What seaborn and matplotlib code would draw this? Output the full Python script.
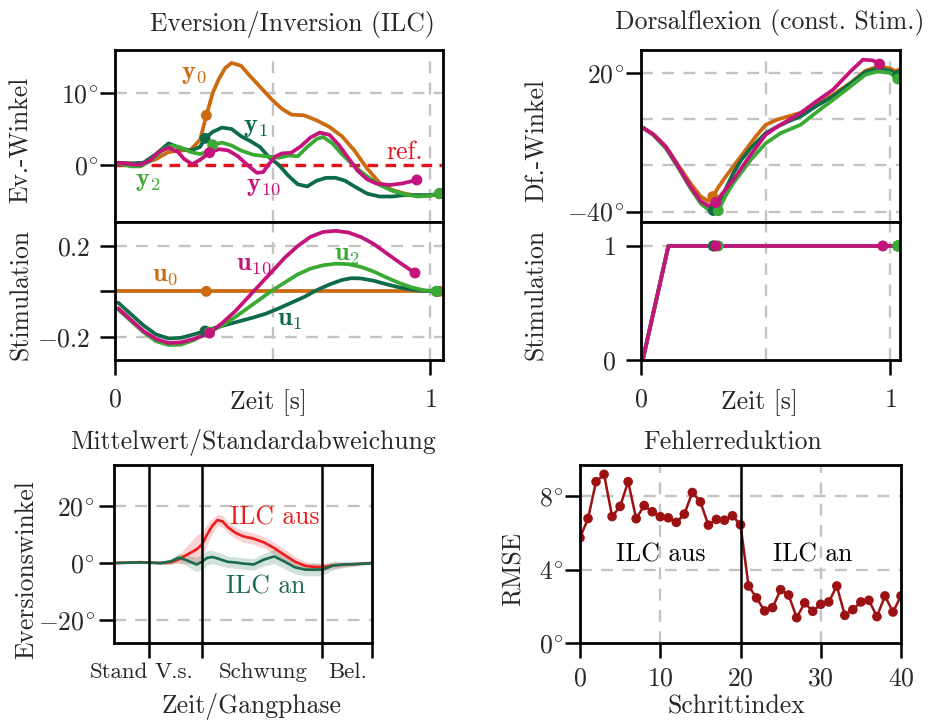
import numpy as np
import pandas as pd
import matplotlib
matplotlib.use("Agg")
import matplotlib.pyplot as plt
import seaborn as sns

# ---------------- data ----------------
# Top-left: Eversion/Inversion (ILC) outputs y_k (deg) over time (s)
y0_t = [0.01,0.05,0.09,0.13,0.17,0.21,0.24,0.27,0.29,0.31,0.33,0.35,0.37,0.40,0.43,0.46,0.50,0.53,0.56,0.60,0.64,0.68,0.72,0.76,0.80,0.84,0.88,0.92,0.96,1.00,1.03]
y0_v = [0.3,0.2,0.2,0.8,1.8,2.0,2.1,3.5,6.9,10.0,12.0,13.5,14.2,13.8,12.3,10.9,9.0,7.8,7.0,6.9,6.2,5.3,4.0,2.0,-0.5,-2.5,-3.5,-4.0,-4.3,-4.3,-4.0]
y1_t = [0.01,0.05,0.09,0.13,0.17,0.21,0.24,0.27,0.286,0.31,0.34,0.37,0.40,0.43,0.46,0.49,0.52,0.55,0.58,0.61,0.64,0.67,0.70,0.73,0.76,0.80,0.84,0.88,0.92,0.96,1.00,1.03]
y1_v = [0.3,0.2,0.3,1.5,3.0,2.3,2.0,2.5,3.7,4.6,5.2,5.0,4.0,3.3,2.5,1.0,0.0,-1.5,-2.7,-3.0,-2.2,-1.8,-1.8,-2.2,-3.0,-4.0,-4.4,-4.4,-4.2,-4.2,-4.2,-4.0]
y2_t = [0.01,0.05,0.08,0.11,0.15,0.18,0.21,0.24,0.27,0.29,0.31,0.34,0.37,0.40,0.44,0.48,0.52,0.55,0.58,0.61,0.64,0.66,0.69,0.72,0.76,0.80,0.84,0.88,0.92,0.96,1.00,1.03]
y2_v = [0.2,-0.2,-0.2,0.5,2.0,2.7,2.4,1.8,1.5,1.8,2.8,3.1,2.7,2.0,1.4,1.2,1.0,1.3,1.2,2.5,3.6,3.9,3.0,1.5,-0.2,-1.6,-2.8,-3.6,-4.1,-4.4,-4.3,-4.0]
y10_t = [0.01,0.05,0.08,0.11,0.14,0.17,0.20,0.22,0.245,0.27,0.30,0.33,0.36,0.39,0.42,0.45,0.47,0.49,0.51,0.53,0.56,0.59,0.62,0.65,0.68,0.71,0.74,0.77,0.80,0.83,0.87,0.91,0.958]
y10_v = [0.3,0.1,0.0,0.6,1.8,2.4,1.8,0.8,0.1,0.7,1.7,2.2,2.0,1.2,0.0,-1.1,-1.0,0.2,1.2,1.6,1.7,2.6,3.8,4.5,4.2,2.8,1.0,-0.8,-2.0,-2.6,-2.8,-2.6,-2.1]
y_mark_t = {"y0": [0.29, 1.03], "y1": [0.286, 1.03], "y2": [0.31, 1.03], "y10": [0.30, 0.958]}
y_mark_v = {"y0": [6.9, -4.0], "y1": [3.7, -4.0], "y2": [2.8, -4.0], "y10": [1.7, -2.1]}
ref_t = [0.0, 1.04]
ref_v = [0.0, 0.0]

# Top-left lower: stimulation u_k
u0_t = [0.0, 1.03]
u0_v = [0.0, 0.0]
u1_t = [0.01,0.05,0.09,0.13,0.17,0.21,0.25,0.286,0.32,0.36,0.40,0.44,0.48,0.52,0.56,0.60,0.64,0.68,0.72,0.75,0.78,0.82,0.86,0.90,0.94,0.98,1.02]
u1_v = [-0.05,-0.10,-0.15,-0.19,-0.208,-0.205,-0.19,-0.175,-0.16,-0.145,-0.13,-0.115,-0.098,-0.075,-0.05,-0.025,0.005,0.03,0.05,0.058,0.057,0.047,0.032,0.018,0.008,0.002,0.0]
u2_t = [0.01,0.05,0.09,0.13,0.17,0.21,0.25,0.30,0.34,0.38,0.42,0.46,0.50,0.54,0.58,0.62,0.66,0.70,0.74,0.78,0.82,0.86,0.90,0.94,0.98,1.02]
u2_v = [-0.08,-0.13,-0.18,-0.22,-0.237,-0.235,-0.215,-0.18,-0.15,-0.115,-0.075,-0.035,0.005,0.04,0.075,0.10,0.115,0.122,0.12,0.108,0.088,0.062,0.038,0.018,0.005,0.0]
u10_t = [0.01,0.05,0.09,0.13,0.17,0.21,0.25,0.30,0.34,0.38,0.42,0.46,0.50,0.54,0.58,0.62,0.66,0.70,0.74,0.78,0.82,0.86,0.90,0.952]
u10_v = [-0.075,-0.125,-0.175,-0.21,-0.228,-0.225,-0.21,-0.184,-0.14,-0.09,-0.03,0.03,0.09,0.15,0.20,0.24,0.262,0.267,0.26,0.24,0.21,0.17,0.13,0.081]
u_mark_t = {"u0": [0.29, 1.03], "u1": [0.286, 1.02], "u2": [0.30, 1.02], "u10": [0.30, 0.952]}
u_mark_v = {"u0": [0.0, 0.0], "u1": [-0.175, 0.0], "u2": [-0.18, 0.0], "u10": [-0.184, 0.081]}

# Top-right: Dorsalflexion (const. Stim.)
d0_t = [0.007,0.05,0.10,0.15,0.20,0.24,0.27,0.288,0.31,0.34,0.38,0.41,0.46,0.50,0.55,0.60,0.64,0.70,0.77,0.84,0.90,0.95,1.00,1.037]
d0_v = [-3.6,-6.5,-11.8,-20.0,-28.0,-33.5,-35.5,-33.5,-29.5,-24.8,-19.0,-14.7,-7.5,-2.4,0.0,1.5,2.8,6.3,10.6,15.7,21.0,22.8,22.0,20.0]
d1_t = [0.007,0.05,0.10,0.15,0.20,0.24,0.27,0.29,0.31,0.34,0.37,0.40,0.44,0.50,0.55,0.60,0.64,0.70,0.77,0.84,0.90,0.95,1.00,1.03]
d1_v = [-3.6,-6.8,-12.5,-21.0,-30.0,-36.3,-39.0,-39.5,-38.0,-30.0,-23.4,-18.0,-12.5,-6.0,-3.0,-0.5,1.2,5.5,9.9,15.5,20.5,22.0,21.0,19.0]
d2_t = [0.007,0.05,0.10,0.15,0.20,0.24,0.27,0.30,0.31,0.34,0.37,0.44,0.50,0.56,0.64,0.70,0.77,0.84,0.90,0.95,1.00,1.03]
d2_v = [-3.6,-6.8,-12.5,-21.0,-30.0,-36.5,-39.0,-39.8,-39.6,-33.0,-27.7,-17.6,-10.4,-6.0,-2.4,2.7,8.4,14.2,19.3,20.8,20.0,17.5]
d10_t = [0.007,0.05,0.10,0.15,0.20,0.24,0.27,0.30,0.32,0.37,0.435,0.50,0.55,0.64,0.70,0.77,0.84,0.89,0.93,0.957]
d10_v = [-3.6,-6.6,-12.0,-20.5,-29.5,-35.5,-37.5,-36.1,-33.0,-26.3,-16.1,-6.7,-3.0,2.7,7.5,12.8,20.7,25.8,25.5,23.9]
d_mark_t = {"d0": [0.288, 1.037], "d1": [0.29, 1.03], "d2": [0.31, 1.03], "d10": [0.30, 0.957]}
d_mark_v = {"d0": [-33.5, 20.0], "d1": [-39.5, 19.0], "d2": [-39.6, 17.5], "d10": [-36.1, 23.9]}
s_t = [0.007, 0.11, 0.30, 1.03]
s_v = [0.0, 1.0, 1.0, 1.0]
s_mark_t = {"d0": [0.29, 1.03], "d1": [0.29, 1.03], "d2": [0.31, 1.03], "d10": [0.30, 0.97]}
s_mark_v = {"d0": [1.0, 1.0], "d1": [1.0, 1.0], "d2": [1.0, 1.0], "d10": [1.0, 1.0]}

# Bottom-left: mean / std of eversion angle over gait cycle
bl_x = [0.00,0.10,0.18,0.22,0.25,0.28,0.30,0.32,0.34,0.36,0.38,0.40,0.42,0.44,0.47,0.50,0.54,0.58,0.62,0.66,0.70,0.74,0.78,0.81,0.85,0.90,0.95,1.00]
off_mean = [0,0.3,0.0,0.3,1.3,2.8,3.8,4.8,6.5,10,13,15,14.5,12.5,10.5,9.3,8.5,7.2,5.2,2.8,0.5,-1,-1.4,-1.4,-0.8,-0.5,-0.3,0]
off_std = [0.3,0.3,0.4,0.8,1.5,3,4,5,4.5,3.5,2.5,2,2,2,2,2,2,2,2,2,1.8,1.5,1.5,1.3,1,0.8,0.5,0.3]
on_mean = [0,0.2,0,0.6,1.9,1.0,0.2,-0.5,0.5,1.8,2.1,1.6,1.0,0.4,0.2,-0.2,-0.5,1.2,2.3,0.5,-1.5,-2.3,-2.3,-2.2,-0.8,-0.5,-0.3,0]
on_std = [0.3,0.3,0.5,1,1.5,2,2.2,2.5,2.5,2.5,2.3,2.2,2.2,2,2,2,2,2.2,2.5,2.5,2.3,2.2,2.2,2,1.5,1,0.6,0.3]
phase_bounds = [0.1345, 0.339, 0.806]
phase_label_pos = [0.017, 0.233, 0.576, 0.904]
phase_labels = ["Stand", "V.s.", "Schwung", "Bel."]

# Bottom-right: RMSE per step
step_idx = list(range(41))
rmse = [5.74,6.79,8.80,9.20,6.90,7.45,8.80,6.78,7.50,7.16,6.89,6.83,6.58,7.03,8.21,7.70,6.43,6.74,6.70,6.94,
        6.45,3.11,2.46,1.75,1.93,2.91,2.62,1.38,2.19,1.73,2.11,2.24,3.11,1.51,1.82,2.24,2.33,1.44,2.57,1.69,2.57]

# ---------------- style ----------------
sns.set_theme(style="white")
plt.rcParams['font.family'] = ['cmr10', 'DejaVu Serif']
plt.rcParams['mathtext.fontset'] = 'cm'
plt.rcParams['axes.unicode_minus'] = False
plt.rcParams['axes.formatter.use_mathtext'] = True

C0 = "#cc6a10"
C1 = "#0e6b48"
C2 = "#3aaa35"
C10 = "#c4147c"
CREF = "#e8101a"
BLR = "#ee1c1c"
BLG = "#1a6b4c"
BRC = "#9c1212"
GRID = "#c3c3c3"
FS = 18.5
AFS = 19

W, H = 933, 720
fig = plt.figure(figsize=(W / 100, H / 100), dpi=100)


def ax_px(l, r, t, b):
    return fig.add_axes([l / W, 1 - b / H, (r - l) / W, (b - t) / H])


def style(ax, ypad=7, xpad=9):
    for s in ax.spines.values():
        s.set_linewidth(2.0)
        s.set_color("black")
        s.set_zorder(5)
    ax.tick_params(axis="both", which="major", direction="out", length=11, width=1.8,
                   labelsize=FS, color="black", bottom=True, left=True)
    ax.tick_params(axis="y", pad=ypad)
    ax.tick_params(axis="x", pad=xpad)
    ax.set_xlabel("")
    ax.set_ylabel("")


def grid(ax, xs=(), ys=()):
    for x in xs:
        ax.axvline(x, color=GRID, lw=1.7, ls=(0, (5, 4)), zorder=0)
    for y in ys:
        ax.axhline(y, color=GRID, lw=1.7, ls=(0, (5, 4)), zorder=0)


def line(ax, t, v, color, lw=2.7, z=2):
    sns.lineplot(x=t, y=v, ax=ax, color=color, lw=lw, sort=False, estimator=None,
                 zorder=z, legend=False)


def marks(ax, t, v, color, s=62, z=3):
    sns.scatterplot(x=t, y=v, ax=ax, color=color, s=s, edgecolor="none",
                    zorder=z, legend=False)


def px_text(x, y, s, **kw):
    fig.text(x / W, 1 - y / H, s, ha="center", va="center", **kw)


def deg(v):
    return r"$%d^{\!\circ}$" % v

# ---------------- top-left upper ----------------
a1 = ax_px(115, 442.7, 50, 222)
grid(a1, xs=[0.5, 1.0], ys=[10])
line(a1, ref_t, ref_v, CREF, lw=2.4, z=1.5)
a1.lines[-1].set_linestyle((0, (3.2, 2.2)))
for (t, v, c, k) in [(y0_t, y0_v, C0, "y0"), (y1_t, y1_v, C1, "y1"),
                     (y2_t, y2_v, C2, "y2"), (y10_t, y10_v, C10, "y10")]:
    line(a1, t, v, c)
    marks(a1, y_mark_t[k], y_mark_v[k], c)
a1.set_xlim(0, 1.04)
a1.set_ylim(-7.95, 16)
a1.set_xticks([])
a1.set_yticks([0, 10])
a1.set_yticklabels([deg(0), deg(10)])
style(a1, ypad=1)
a1.text(0.25, 12.6, r"$\mathbf{y}_0$", color=C0, fontsize=AFS, ha="center", va="center")
a1.text(0.445, 5.3, r"$\mathbf{y}_1$", color=C1, fontsize=AFS, ha="center", va="center")
a1.text(0.105, -2.2, r"$\mathbf{y}_2$", color=C2, fontsize=AFS, ha="center", va="center")
a1.text(0.47, -3.0, r"$\mathbf{y}_{10}$", color=C10, fontsize=AFS, ha="center", va="center")
a1.text(0.92, 1.8, "ref.", color=CREF, fontsize=FS, ha="center", va="center")

# ---------------- top-left lower ----------------
a2 = ax_px(115, 442.7, 222, 360)
grid(a2, xs=[0.5, 1.0], ys=[0.2, 0.0, -0.2])
for (t, v, c, k) in [(u0_t, u0_v, C0, "u0"), (u1_t, u1_v, C1, "u1"),
                     (u2_t, u2_v, C2, "u2"), (u10_t, u10_v, C10, "u10")]:
    line(a2, t, v, c)
    marks(a2, u_mark_t[k], u_mark_v[k], c)
a2.set_xlim(0, 1.04)
a2.set_ylim(-0.303, 0.306)
a2.set_xticks([0, 1])
a2.set_xticklabels([r"$0$", r"$1$"])
a2.set_yticks([-0.2, 0.0, 0.2])
a2.set_yticklabels([r"$-0.2$", "", r"$0.2$"])
style(a2, ypad=7)
a2.text(0.16, 0.07, r"$\mathbf{u}_0$", color=C0, fontsize=AFS, ha="center", va="center")
a2.text(0.44, 0.12, r"$\mathbf{u}_{10}$", color=C10, fontsize=AFS, ha="center", va="center")
a2.text(0.735, 0.16, r"$\mathbf{u}_2$", color=C2, fontsize=AFS, ha="center", va="center")
a2.text(0.555, -0.125, r"$\mathbf{u}_1$", color=C1, fontsize=AFS, ha="center", va="center")

# ---------------- top-right upper ----------------
a3 = ax_px(641, 900.3, 50, 222)
grid(a3, xs=[0.5, 1.0], ys=[20, 0, -20, -40])
for (t, v, c, k) in [(d0_t, d0_v, C0, "d0"), (d1_t, d1_v, C1, "d1"),
                     (d2_t, d2_v, C2, "d2"), (d10_t, d10_v, C10, "d10")]:
    line(a3, t, v, c)
    marks(a3, d_mark_t[k], d_mark_v[k], c)
a3.set_xlim(0, 1.04)
a3.set_ylim(-44.5, 30)
a3.set_xticks([])
a3.set_yticks([-40, 20])
a3.set_yticklabels([deg(-40), deg(20)])
style(a3, ypad=1)

# ---------------- top-right lower ----------------
a4 = ax_px(641, 900.3, 222, 360)
grid(a4, xs=[0.5, 1.0], ys=[1.0])
for (c, k) in [(C0, "d0"), (C1, "d1"), (C2, "d2"), (C10, "d10")]:
    line(a4, s_t, s_v, c)
    marks(a4, s_mark_t[k], s_mark_v[k], c)
a4.set_xlim(0, 1.04)
a4.set_ylim(0, 1.21)
a4.set_xticks([0, 1])
a4.set_xticklabels([r"$0$", r"$1$"])
a4.set_yticks([0, 1])
a4.set_yticklabels([r"$0$", r"$1$"])
style(a4, ypad=7)

# ---------------- bottom-left ----------------
a5 = ax_px(114.3, 372.3, 465, 643)
grid(a5, ys=[20, -20])
df_bl = pd.DataFrame({"x": bl_x, "off": off_mean, "on": on_mean,
                      "off_sd": off_std, "on_sd": on_std})
a5.fill_between(df_bl.x, df_bl.off - df_bl.off_sd, df_bl.off + df_bl.off_sd,
                color=BLR, alpha=0.2, lw=0, zorder=1)
a5.fill_between(df_bl.x, df_bl.on - df_bl.on_sd, df_bl.on + df_bl.on_sd,
                color=BLG, alpha=0.2, lw=0, zorder=1)
line(a5, df_bl.x, df_bl.off, BLR, lw=1.9)
line(a5, df_bl.x, df_bl.on, BLG, lw=1.9)
for b in phase_bounds:
    a5.axvline(b, color="black", lw=1.8, zorder=4)
a5.set_xlim(0, 1)
a5.set_ylim(-27.9, 34.2)
a5.set_xticks(phase_bounds + [1.0])
a5.set_xticklabels([""] * 4)
a5.set_xticks(phase_label_pos, minor=True)
a5.set_xticklabels(phase_labels, minor=True)
a5.set_yticks([-20, 0, 20])
a5.set_yticklabels([deg(-20), deg(0), deg(20)])
style(a5, ypad=3)
a5.tick_params(axis="x", which="minor", length=0, pad=14, labelsize=16.5, bottom=True)
a5.text(0.623, 15.9, "ILC aus", color=BLR, fontsize=FS, ha="center", va="center")
a5.text(0.587, -8.1, "ILC an", color=BLG, fontsize=FS, ha="center", va="center")

# ---------------- bottom-right ----------------
a6 = ax_px(580, 901, 465, 643)
grid(a6, xs=[10, 30], ys=[4, 8])
line(a6, step_idx, rmse, BRC, lw=1.8)
marks(a6, step_idx, rmse, BRC, s=48)
a6.axvline(20, color="black", lw=1.8, zorder=4)
a6.set_xlim(0, 40)
a6.set_ylim(0, 9.71)
a6.set_xticks([0, 10, 20, 30, 40])
a6.set_xticklabels([r"$0$", r"$10$", r"$20$", r"$30$", r"$40$"])
a6.set_yticks([0, 4, 8])
a6.set_yticklabels([deg(0), deg(4), deg(8)])
style(a6, ypad=1, xpad=6)
a6.text(10.0, 4.8, "ILC aus", color="black", fontsize=FS, ha="center", va="center")
a6.text(29.0, 4.8, "ILC an", color="black", fontsize=FS, ha="center", va="center")

# ---------------- titles & labels ----------------
px_text(292, 24, "Eversion/Inversion (ILC)", fontsize=FS)
px_text(770, 22, "Dorsalflexion (const. Stim.)", fontsize=FS)
px_text(253, 443, "Mittelwert/Standardabweichung", fontsize=FS)
px_text(733, 442, "Fehlerreduktion", fontsize=FS)
px_text(21, 140, "Ev.-Winkel", fontsize=FS, rotation=90)
px_text(21, 294, "Stimulation", fontsize=FS, rotation=90)
px_text(537, 141, "Df.-Winkel", fontsize=FS, rotation=90)
px_text(536, 294, "Stimulation", fontsize=FS, rotation=90)
px_text(26, 570, "Eversionswinkel", fontsize=FS, rotation=90)
px_text(514, 569, "RMSE", fontsize=FS, rotation=90)
px_text(268, 403, "Zeit [s]", fontsize=FS)
px_text(759, 403, "Zeit [s]", fontsize=FS)
px_text(252, 707, "Zeit/Gangphase", fontsize=FS)
px_text(736, 707, "Schrittindex", fontsize=FS)

fig.savefig("out.png", dpi=100)
